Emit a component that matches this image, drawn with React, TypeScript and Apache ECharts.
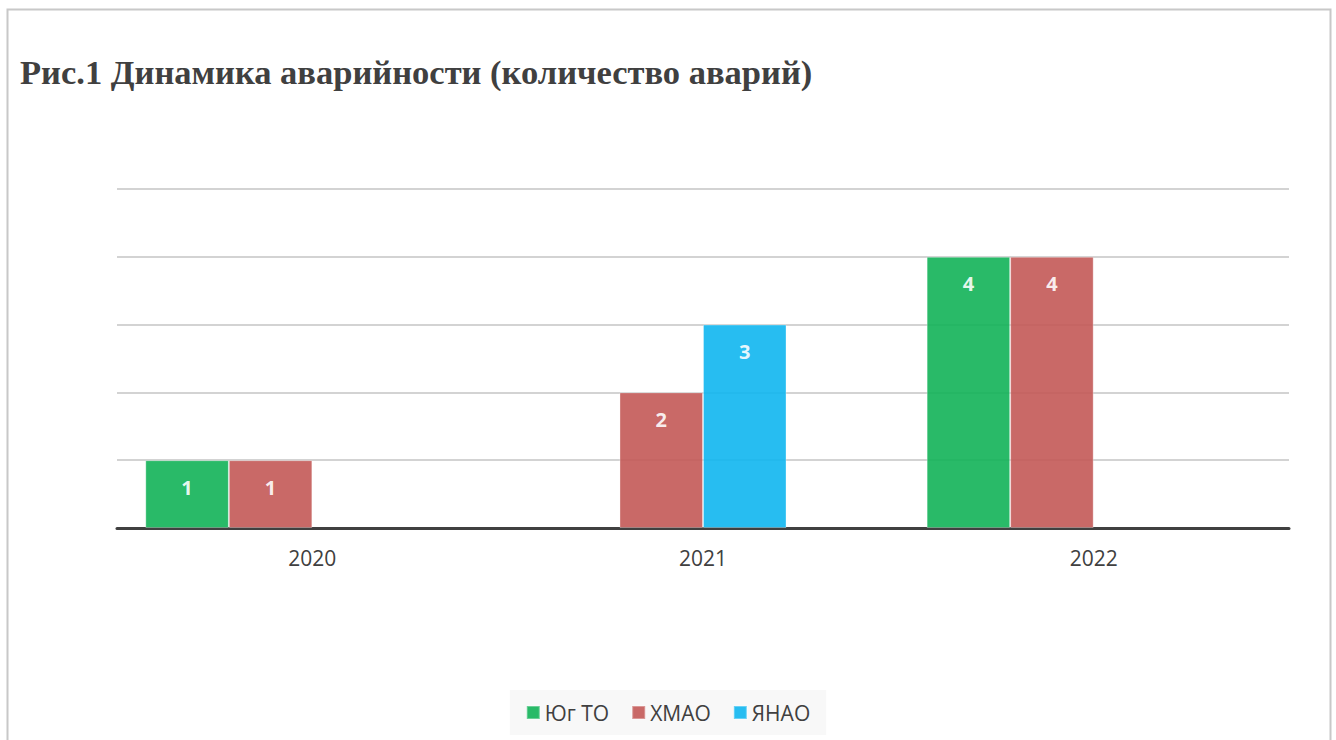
import React, { useEffect, useRef } from "react";
import * as echarts from "echarts";

const categories = ["2020", "2021", "2022"];
const seriesNames = ["Юг ТО", "ХМАО", "ЯНАО"];
const yugTO: (number | null)[] = [1, null, 4];
const hmao: (number | null)[] = [1, 2, 4];
const yanao: (number | null)[] = [null, 3, null];
const emptySeries: (number | null)[] = [null, null, null];
const colors = ["#12b258", "#c35957", "#10b6f0"];
const titleText = "Рис.1 Динамика аварийности (количество аварий)";

export default function App() {
  const ref = useRef<HTMLDivElement>(null);
  useEffect(() => {
    if (!ref.current) return;
    const chart = echarts.init(ref.current, null, { renderer: "svg" });
    const mk = (name: string, data: (number | null)[], color: string) => ({
      name,
      type: "bar",
      data,
      barGap: "0%",
      barCategoryGap: "14.5%",
      itemStyle: { color, opacity: 0.9, borderColor: "rgba(255,255,255,0.35)", borderWidth: 1 },
      label: {
        show: true,
        position: "insideTop",
        distance: 17,
        color: "#ffffff",
        fontWeight: "bold",
        fontSize: 20,
        fontFamily: "Open Sans",
      },
    });
    chart.setOption({
      animation: false,
      backgroundColor: "#ffffff",
      graphic: [
        {
          type: "rect",
          shape: { x: 7.5, y: 9.5, width: 1323, height: 800 },
          style: { fill: "none", stroke: "#c8c8c8", lineWidth: 2 },
          silent: true,
        },
      ],
      title: {
        text: titleText,
        left: 15,
        top: 49,
        textStyle: {
          fontFamily: "Liberation Serif, Times New Roman, serif",
          fontWeight: "bold",
          fontSize: 34.5,
          color: "#404040",
        },
      },
      legend: {
        data: seriesNames,
        bottom: 5,
        left: "center",
        backgroundColor: "#f8f8f8",
        padding: [12, 16],
        itemGap: 22,
        icon: "rect",
        itemWidth: 13,
        itemHeight: 13,
        textStyle: { fontFamily: "Open Sans", fontSize: 21, color: "#404040" },
      },
      grid: { left: 117, right: 47, top: 189, bottom: 212 },
      xAxis: {
        type: "category",
        data: categories,
        axisLine: { lineStyle: { color: "#404040", width: 3 } },
        axisTick: { show: false },
        axisLabel: { fontFamily: "Open Sans", fontSize: 21, color: "#404040", margin: 19 },
      },
      yAxis: {
        type: "value",
        min: 0,
        max: 5,
        interval: 1,
        axisLabel: { show: false },
        axisLine: { show: false },
        axisTick: { show: false },
        splitLine: { lineStyle: { color: "#c4c4c4", width: 1.5 } },
      },
      series: [
        mk(seriesNames[0], yugTO, colors[0]),
        mk(seriesNames[1], hmao, colors[1]),
        mk(seriesNames[2], yanao, colors[2]),
        { name: "", type: "bar", data: emptySeries, barGap: "0%", barCategoryGap: "14.5%" },
      ],
    });
    return () => chart.dispose();
  }, []);
  return (
    <div
      ref={ref}
      style={{ position: "fixed", left: 0, top: 0, width: 1336, height: 740 }}
    />
  );
}
